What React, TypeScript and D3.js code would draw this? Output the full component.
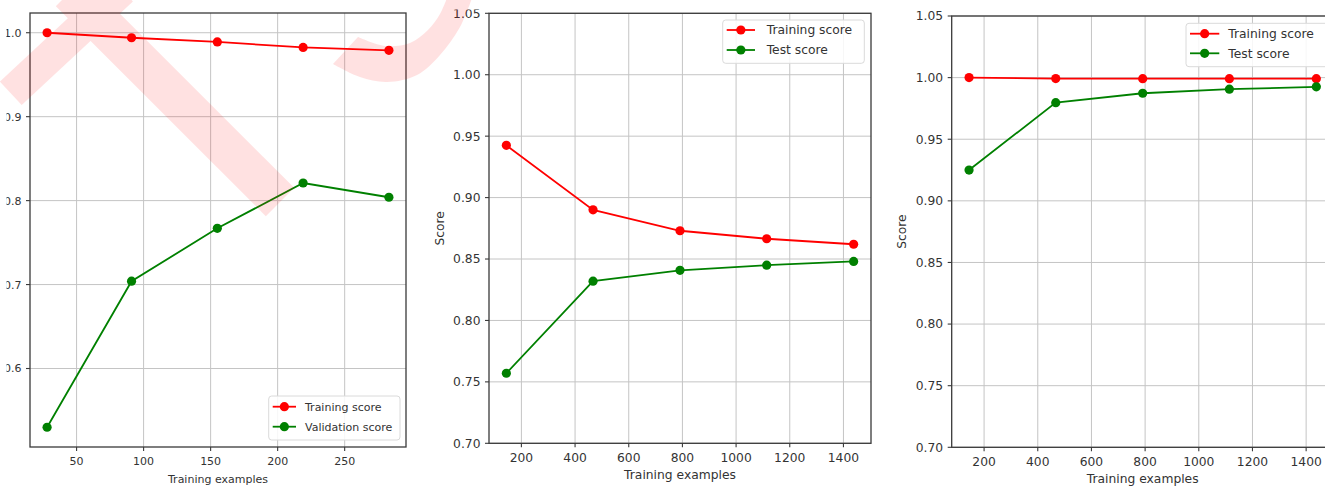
import React from "react";
import * as d3 from "d3";

// ---------- data ----------
const panel1Sizes = [28, 91, 155, 219, 283];
const panel1Train = [1.0, 0.994, 0.989, 0.9825, 0.979];
const panel1Valid = [0.53, 0.704, 0.767, 0.821, 0.804];

const panel2Sizes = [144, 467, 791, 1114, 1438];
const panel2Train = [0.9425, 0.89, 0.873, 0.8665, 0.862];
const panel2Test = [0.757, 0.832, 0.8408, 0.845, 0.848];

const panel3Sizes = [144, 467, 791, 1114, 1438];
const panel3Train = [1.0, 0.9992, 0.9991, 0.9991, 0.9991];
const panel3Test = [0.925, 0.9797, 0.9873, 0.9906, 0.9925];

const panel1XTicks = [50, 100, 150, 200, 250];
const panel1YTicks = [0.6, 0.7, 0.8, 0.9, 1.0];
const wideXTicks = [200, 400, 600, 800, 1000, 1200, 1400];
const wideYTicks = [0.7, 0.75, 0.8, 0.85, 0.9, 0.95, 1.0, 1.05];

const labelTrain = "Training score";
const labelValid = "Validation score";
const labelTest = "Test score";
const xTitle = "Training examples";
const yTitle = "Score";

const RED = "#ff0000";
const GREEN = "#008000";
const TEXT = "#333333";
const FONT = "'DejaVu Sans', Verdana, sans-serif";

type Series = { label: string; color: string; values: number[] };

type PanelProps = {
  left: number;
  top: number;
  width: number;
  height: number;
  xDomain: [number, number];
  yDomain: [number, number];
  xTicks: number[];
  yTicks: number[];
  yFmt: (v: number) => string;
  sizes: number[];
  series: Series[];
  fontSize: number;
  showYTitle: boolean;
  legend: {
    x: number;
    y: number;
    w: number;
    h: number;
    sampleStart: number;
    sampleLen: number;
    textX: number;
    row0: number;
    rowGap: number;
  };
  clipId?: string;
};

function Panel(p: PanelProps) {
  const x = d3.scaleLinear().domain(p.xDomain).range([p.left, p.left + p.width]);
  const y = d3.scaleLinear().domain(p.yDomain).range([p.top + p.height, p.top]);
  const bottom = p.top + p.height;
  const line = d3
    .line<number>()
    .x((_, i) => x(p.sizes[i]))
    .y((d) => y(d));
  const lg = p.legend;
  return (
    <g>
      {/* grid */}
      <g stroke="#c4c4c4" strokeWidth={1}>
        {p.xTicks.map((t) => (
          <line key={"gx" + t} x1={x(t)} x2={x(t)} y1={p.top} y2={bottom} />
        ))}
        {p.yTicks.map((t) => (
          <line key={"gy" + t} x1={p.left} x2={p.left + p.width} y1={y(t)} y2={y(t)} />
        ))}
      </g>
      {/* series */}
      {p.series.map((s) => (
        <g key={s.label}>
          <path d={line(s.values) || ""} fill="none" stroke={s.color} strokeWidth={1.8} />
          {s.values.map((v, i) => (
            <circle key={i} cx={x(p.sizes[i])} cy={y(v)} r={4.6} fill={s.color} />
          ))}
        </g>
      ))}
      {/* frame */}
      <rect
        x={p.left}
        y={p.top}
        width={p.width}
        height={p.height}
        fill="none"
        stroke="#3a3a3a"
        strokeWidth={1.3}
      />
      {/* ticks */}
      <g stroke="#3a3a3a" strokeWidth={1.1}>
        {p.xTicks.map((t) => (
          <line key={"tx" + t} x1={x(t)} x2={x(t)} y1={bottom} y2={bottom + 4} />
        ))}
        {p.yTicks.map((t) => (
          <line key={"ty" + t} x1={p.left - 4} x2={p.left} y1={y(t)} y2={y(t)} />
        ))}
      </g>
      <g
        fontFamily={FONT}
        fontSize={p.fontSize}
        fill={TEXT}
        clipPath={p.clipId ? `url(#${p.clipId})` : undefined}
      >
        {p.xTicks.map((t) => (
          <text key={"lx" + t} x={x(t)} y={bottom + 18.2} textAnchor="middle">
            {String(t)}
          </text>
        ))}
        {p.yTicks.map((t) => (
          <text key={"ly" + t} x={p.left - 8.5} y={y(t) + p.fontSize * 0.36} textAnchor="end">
            {p.yFmt(t)}
          </text>
        ))}
        <text x={p.left + p.width / 2} y={bottom + 36} textAnchor="middle">
          {xTitle}
        </text>
        {p.showYTitle && (
          <text
            transform={`translate(${p.left - 45.5},${p.top + p.height / 2}) rotate(-90)`}
            textAnchor="middle"
          >
            {yTitle}
          </text>
        )}
      </g>
      {/* legend */}
      <g fontFamily={FONT} fontSize={p.fontSize} fill={TEXT}>
        <rect
          x={lg.x}
          y={lg.y}
          width={lg.w}
          height={lg.h}
          rx={3}
          fill="#ffffff"
          fillOpacity={0.85}
          stroke="#dadada"
          strokeWidth={1}
        />
        {p.series.map((s, i) => {
          const ry = lg.y + lg.row0 + i * lg.rowGap;
          const sx = lg.x + lg.sampleStart;
          return (
            <g key={"lg" + s.label}>
              <line x1={sx} x2={sx + lg.sampleLen} y1={ry} y2={ry} stroke={s.color} strokeWidth={1.8} />
              <circle cx={sx + lg.sampleLen / 2} cy={ry} r={4.6} fill={s.color} />
              <text x={lg.x + lg.textX} y={ry + p.fontSize * 0.36}>
                {s.label}
              </text>
            </g>
          );
        })}
      </g>
    </g>
  );
}

function Watermark() {
  const curve = d3
    .line<[number, number]>()
    .x((d) => d[0])
    .y((d) => d[1])
    .curve(d3.curveCatmullRom);
  const outer: [number, number][] = [
    [333, 64],
    [360, 77],
    [387, 82],
    [417, 75],
    [440, 55],
    [460, 27],
    [472, -2],
  ];
  const inner: [number, number][] = [
    [447, -2],
    [440, 14],
    [428, 30],
    [410, 43],
    [385, 46],
    [358, 37],
  ];
  const arcPath = (curve(outer) || "") + (curve(inner) || "").replace(/^M/, "L") + "Z";
  return (
    <g opacity={0.115} pointerEvents="none">
      <line x1={10.8} y1={93.3} x2={122} y2={-10.3} stroke="#ff0000" strokeWidth={32} />
      <line x1={70} y1={-8} x2={280} y2={202} stroke="#ff0000" strokeWidth={40} />
      <path d={arcPath} fill="#ff0000" />
    </g>
  );
}

export default function App() {
  const f1 = (v: number) => v.toFixed(1);
  const f2 = (v: number) => v.toFixed(2);
  return (
    <svg
      width={1325}
      height={487}
      viewBox="0 0 1325 487"
      style={{ position: "absolute", left: 0, top: 0, background: "#ffffff" }}
    >
      <defs>
        <clipPath id="clip1">
          <rect x={6.5} y={0} width={1325} height={487} />
        </clipPath>
        <clipPath id="clip2">
          <rect x={0} y={9.5} width={1325} height={487} />
        </clipPath>
      </defs>
      <rect x={0} y={0} width={1325} height={487} fill="#ffffff" />
      <Panel
        left={30}
        top={13}
        width={376}
        height={434}
        xDomain={[15.25, 295.75]}
        yDomain={[0.5065, 1.0235]}
        xTicks={panel1XTicks}
        yTicks={panel1YTicks}
        yFmt={f1}
        sizes={panel1Sizes}
        series={[
          { label: labelTrain, color: RED, values: panel1Train },
          { label: labelValid, color: GREEN, values: panel1Valid },
        ]}
        fontSize={11}
        showYTitle={false}
        clipId="clip1"
        legend={{ x: 268.7, y: 396, w: 131.3, h: 44, sampleStart: 4, sampleLen: 23.3, textX: 36.3, row0: 10.7, rowGap: 20 }}
      />
      <Panel
        left={489}
        top={13.3}
        width={382}
        height={430}
        xDomain={[79.3, 1502.7]}
        yDomain={[0.7, 1.05]}
        xTicks={wideXTicks}
        yTicks={wideYTicks}
        yFmt={f2}
        sizes={panel2Sizes}
        series={[
          { label: labelTrain, color: RED, values: panel2Train },
          { label: labelTest, color: GREEN, values: panel2Test },
        ]}
        fontSize={12.3}
        showYTitle={true}
        clipId="clip2"
        legend={{ x: 722.7, y: 20, w: 141.6, h: 43.3, sampleStart: 4, sampleLen: 28.3, textX: 44, row0: 10, rowGap: 20 }}
      />
      <Panel
        left={951.7}
        top={16}
        width={382}
        height={431.3}
        xDomain={[79.3, 1502.7]}
        yDomain={[0.7, 1.05]}
        xTicks={wideXTicks}
        yTicks={wideYTicks}
        yFmt={f2}
        sizes={panel3Sizes}
        series={[
          { label: labelTrain, color: RED, values: panel3Train },
          { label: labelTest, color: GREEN, values: panel3Test },
        ]}
        fontSize={12.3}
        showYTitle={true}
        legend={{ x: 1186, y: 23.3, w: 142, h: 43.4, sampleStart: 4, sampleLen: 29.3, textX: 42.3, row0: 10.4, rowGap: 19.6 }}
      />
      <Watermark />
    </svg>
  );
}
